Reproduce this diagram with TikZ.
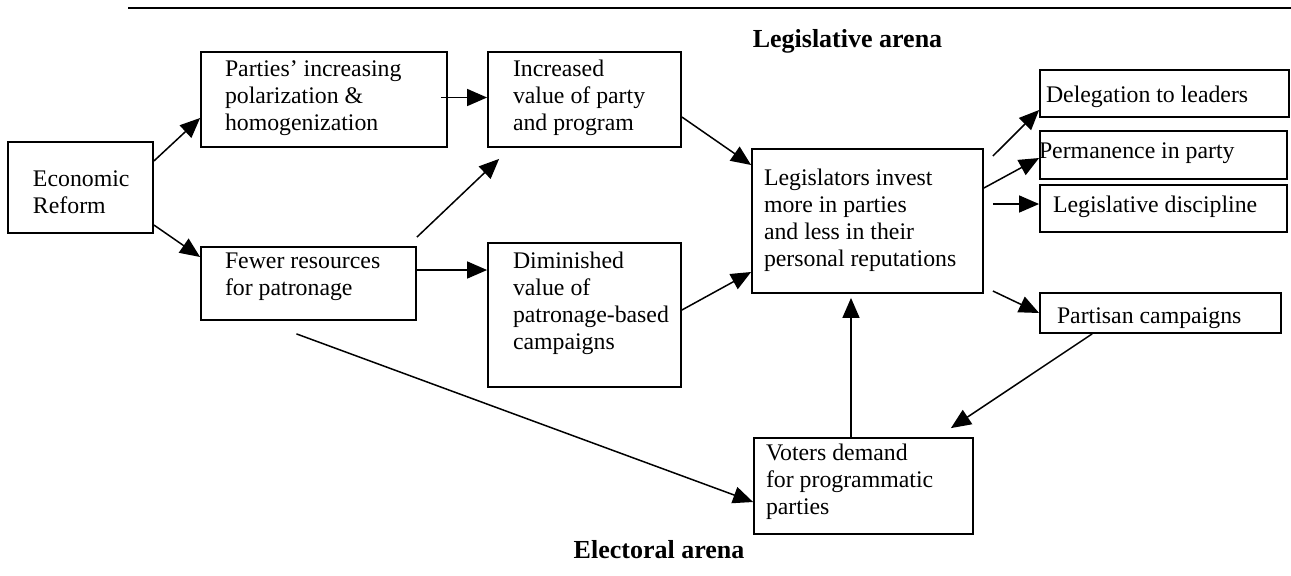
\documentclass[tikz,border=0pt]{standalone}
\usepackage{fontspec}
\setmainfont{Liberation Serif}
\usetikzlibrary{arrows.meta,calc}
% #1 height, #2 width, #3 left pad, #4 first baseline from top, #5 text
\newcommand{\mybox}[5]{\parbox[c][#1][t]{#2}{\raggedright\leftskip=#3\relax\rule{0pt}{#4}#5\par}}
\begin{document}
\begin{tikzpicture}[x=0.5pt,y=-0.5pt,
  box/.style={draw, line width=0.9pt, inner sep=0pt,
    font=\fontsize{11.9}{13.5}\selectfont},
  arr/.style={-{Triangle[length=10pt,width=8.5pt]}, line width=0.75pt},
  lbl/.style={font=\fontsize{13}{15}\selectfont\bfseries, inner sep=0pt, anchor=base}]
\useasboundingbox (0,0) rectangle (1291,575);
\draw[line width=0.75pt] (128,8) -- (1291,8);

\node[box] (econ) at (80.5,187.5) {\mybox{45.5pt}{72.5pt}{12.5pt}{22.2pt}{Economic\\Reform}};
\node[box] (parties) at (324,99.5) {\mybox{47.5pt}{123pt}{12pt}{12.4pt}{Parties’ increasing\\polarization \&\\homogenization}};
\node[box] (fewer) at (308.5,283.5) {\mybox{36.5pt}{107.5pt}{12pt}{10.6pt}{Fewer resources\\for patronage}};
\node[box] (increased) at (584.5,99.5) {\mybox{47.5pt}{96.5pt}{12.5pt}{12.4pt}{Increased\\value of party\\and program}};
\node[box] (diminished) at (584.5,315) {\mybox{72pt}{96.5pt}{12.5pt}{12.6pt}{Diminished\\value of\\patronage-based\\campaigns}};
\node[box] (legis) at (867.5,221) {\mybox{72pt}{115.5pt}{6pt}{18.2pt}{Legislators invest\\more in parties\\and less in their\\personal reputations}};
\node[box] (dele) at (1164.5,93.5) {\mybox{23.5pt}{124.5pt}{3pt}{16.4pt}{Delegation to leaders}};
\node[box] (perm) at (1163.5,155) {\mybox{24pt}{123.5pt}{-0.5pt}{13.7pt}{Permanence in party}};
\node[box] (disc) at (1163.5,208.5) {\mybox{23.5pt}{123.5pt}{6.5pt}{13.9pt}{Legislative discipline}};
\node[box] (partisan) at (1160.5,313) {\mybox{20pt}{120.5pt}{8.5pt}{15.1pt}{Partisan campaigns}};
\node[box] (voters) at (863.5,486) {\mybox{48pt}{109.5pt}{6pt}{11pt}{Voters demand\\for programmatic\\parties}};

\node[lbl] (legarena) at (847.5,47) {Legislative arena};
\node[lbl] (elecarena) at (659,558) {Electoral arena};

\path (legis.east) ++(9,0) coordinate (lr);

\draw[arr] (econ.east |- 0,161) -- (parties.west |- 0,118);
\draw[arr] (econ.east |- 0,225) -- (fewer.west |- 0,257);
\draw[arr] ($(parties.east)+(-7,-2)$) -- (increased.west |- 0,97.5);
\draw[arr] ($(fewer.north east)+(0,-9)$) -- ($(increased.south west)+(12,11)$);
\draw[arr] (fewer.east |- 0,270) -- (diminished.west |- 0,270);
\draw[arr] (increased.east |- 0,117) -- (legis.west |- 0,165);
\draw[arr] (diminished.east |- 0,310) -- (legis.west |- 0,272);
\draw[arr] (lr |- 0,156) -- (dele.west |- 0,110);
\draw[arr] (legis.east |- 0,188) -- (perm.west |- 0,158);
\draw[arr] (lr |- 0,204) -- (disc.west |- 0,204);
\draw[arr] (lr |- 0,291) -- (partisan.west |- 0,313);
\draw[arr] ($(partisan.south west)+(53,0)$) -- ($(voters.north east)+(-23,-9)$);
\draw[arr] (voters.north -| 851,0) -- ($(legis.south -| 851,0)+(0,4)$);
\draw[arr] ($(fewer.south)+(-12,13)$) -- (voters.west |- 0,502);
\end{tikzpicture}
\end{document}
